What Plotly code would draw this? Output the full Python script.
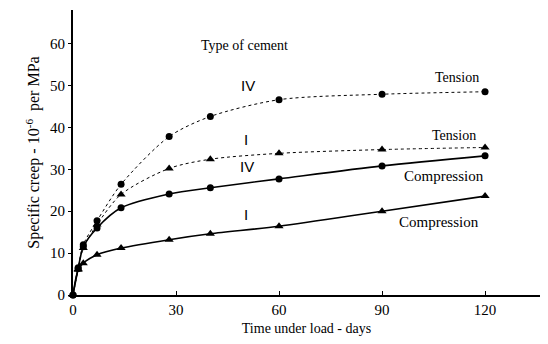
import plotly.graph_objects as go

days = [0, 1.5, 3, 7, 14, 28, 40, 60, 90, 120]
iv_tension = [0, 6.5, 12.0, 17.7, 26.4, 37.8, 42.6, 46.6, 47.9, 48.5]
i_tension = [0, 6.2, 11.2, 16.8, 24.0, 30.2, 32.4, 33.8, 34.7, 35.2]
iv_compression = [0, 6.3, 11.5, 16.0, 20.8, 24.1, 25.6, 27.7, 30.8, 33.2]
i_compression = [0, 6.0, 7.6, 9.6, 11.2, 13.2, 14.6, 16.4, 20.0, 23.6]

x_ticks = [0, 30, 60, 90, 120]
y_ticks = [0, 10, 20, 30, 40, 50, 60]

serif = "Liberation Serif, Times New Roman, serif"
sans = "Liberation Sans, Arial, sans-serif"

fig = go.Figure()

def add(y, symbol, dash, width, msize):
    fig.add_trace(go.Scatter(
        x=days, y=y, mode="lines+markers",
        line=dict(color="black", width=width, dash=dash, shape="spline", smoothing=0.8),
        marker=dict(symbol=symbol, size=msize, color="black"),
        showlegend=False, cliponaxis=False,
    ))

add(iv_tension, "circle", "dot", 1.0, 7)
add(i_tension, "triangle-up", "dot", 1.0, 8)
add(iv_compression, "circle", "solid", 1.6, 7)
add(i_compression, "triangle-up", "solid", 1.6, 8)

annotations = [
    dict(x=50, y=59.5, text="Type of cement", font=dict(family=serif, size=14, color="black")),
    dict(x=51, y=50, text="IV", font=dict(family=sans, size=15, color="black")),
    dict(x=50.5, y=37, text="I", font=dict(family=sans, size=15, color="black")),
    dict(x=50.7, y=30.7, text="IV", font=dict(family=sans, size=15, color="black")),
    dict(x=50.5, y=19.2, text="I", font=dict(family=sans, size=15, color="black")),
    dict(x=111.7, y=51.8, text="Tension", font=dict(family=serif, size=14, color="black")),
    dict(x=111, y=38.1, text="Tension", font=dict(family=serif, size=14, color="black")),
    dict(x=108, y=28.3, text="Compression", font=dict(family=serif, size=15, color="black")),
    dict(x=106.7, y=17.3, text="Compression", font=dict(family=serif, size=15, color="black")),
]
for a in annotations:
    fig.add_annotation(showarrow=False, xref="x", yref="y", **a)

fig.update_layout(
    width=548, height=344,
    margin=dict(l=73, r=8, t=10, b=49),
    paper_bgcolor="white", plot_bgcolor="white",
    font=dict(family=serif, size=14, color="black"),
    xaxis=dict(
        range=[0, 136], tickvals=x_ticks, showgrid=False, zeroline=False,
        showline=True, linecolor="black", linewidth=2,
        ticks="inside", ticklen=4, tickcolor="black",
        title=dict(text="Time under load - days", font=dict(family=serif, size=14, color="black"), standoff=6),
        tickfont=dict(family=serif, size=15, color="black"),
    ),
    yaxis=dict(
        range=[0, 68], tickvals=y_ticks, showgrid=False, zeroline=False,
        showline=True, linecolor="black", linewidth=2,
        ticks="outside", ticklen=3, tickcolor="black",
        title=dict(text="Specific creep - 10<sup>-6</sup>  per MPa", font=dict(family=serif, size=16, color="black"), standoff=6),
        tickfont=dict(family=serif, size=15, color="black"),
    ),
)

fig.write_html("out.html")
